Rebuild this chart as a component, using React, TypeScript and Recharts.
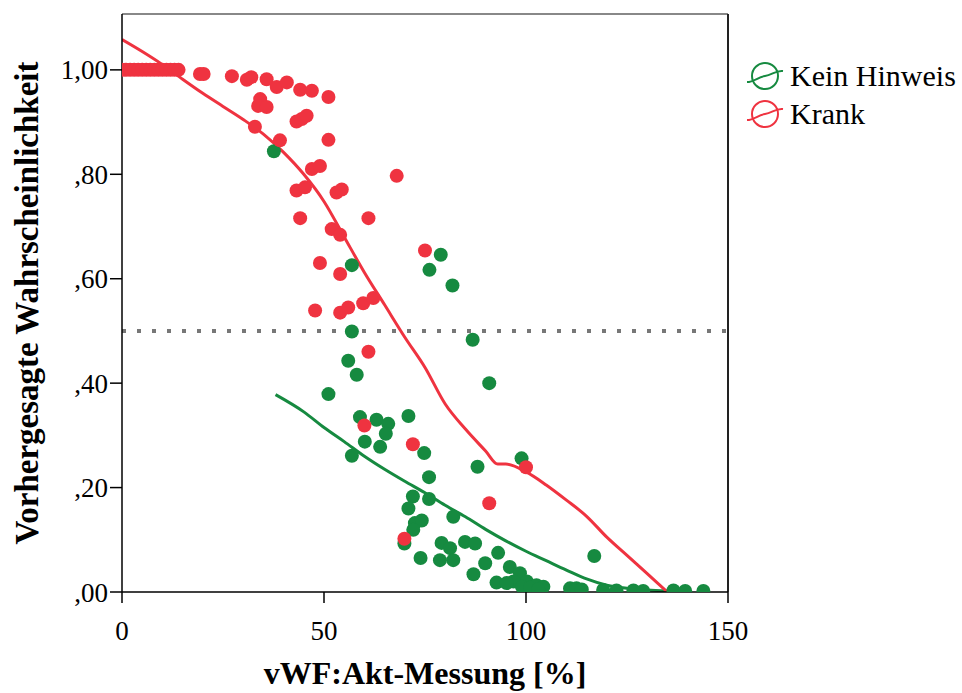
import React from 'react';
import { ComposedChart, Scatter, Line, XAxis, YAxis, ReferenceLine, Text } from 'recharts';

const FONT = '"Liberation Serif", "Times New Roman", Times, serif';
const RED = '#ef3340';
const GREEN = '#168a40';

// vWF:Akt [%], predicted probability
const krankPoints: [number, number][] = [
  [0, 1], [1, 1], [2, 1], [3, 1], [4, 1], [5, 1], [6, 1], [7, 1], [8, 1], [9, 1], [10, 1], [11, 1], [12, 1], [13, 1], [14, 1],
  [19.3, 0.992], [20.2, 0.992], [27.2, 0.988], [30.9, 0.981], [32, 0.986], [35.8, 0.982], [38.3, 0.967], [40.8, 0.976],
  [44.1, 0.962], [47, 0.96], [51.1, 0.948], [34.2, 0.944], [33.7, 0.931], [35.8, 0.929], [43.2, 0.901], [44.5, 0.906],
  [45.7, 0.912], [32.9, 0.891], [39.1, 0.865], [51.1, 0.866], [47, 0.81], [49, 0.816], [68, 0.797], [43.2, 0.769],
  [45.3, 0.775], [53.1, 0.765], [54.4, 0.771], [44.1, 0.716], [61, 0.716], [51.9, 0.695], [54, 0.684], [75, 0.654],
  [49, 0.63], [54, 0.609], [47.8, 0.539], [54, 0.535], [56, 0.545], [59.7, 0.553], [62.2, 0.563], [61, 0.46],
  [60, 0.319], [72, 0.283], [100, 0.239], [90.9, 0.17], [69.9, 0.102],
];

const keinPoints: [number, number][] = [
  [37.6, 0.844], [56.9, 0.626], [78.9, 0.646], [76.1, 0.617], [81.8, 0.587], [56.9, 0.499], [86.8, 0.483], [56, 0.443],
  [58.1, 0.416], [51.1, 0.379], [90.9, 0.4], [58.9, 0.335], [63, 0.33], [65.9, 0.322], [65.3, 0.303], [60.1, 0.288],
  [63.9, 0.278], [56.9, 0.261], [70.9, 0.337], [74.8, 0.266], [76, 0.22], [88, 0.24], [98.9, 0.256], [72, 0.183],
  [76, 0.178], [70.9, 0.16], [82, 0.144], [72.5, 0.132], [74.2, 0.137], [72.1, 0.119], [69.9, 0.093], [79.1, 0.094],
  [81.2, 0.084], [78.7, 0.061], [82, 0.061], [84.9, 0.096], [87.4, 0.093], [73.9, 0.065], [93.1, 0.075], [89.9, 0.055],
  [87, 0.034], [92.7, 0.018], [96, 0.048], [98.5, 0.036], [96.9, 0.02], [100.2, 0.02], [102.6, 0.013], [104.3, 0.01],
  [95.2, 0.017], [99, 0.01], [101, 0.008], [103, 0.005], [110.9, 0.007], [112.5, 0.007], [113.8, 0.005], [116.9, 0.069],
  [119.1, 0.004], [122.4, 0.003], [126.6, 0.003], [129, 0.002], [136.5, 0.003], [139.4, 0.002], [143.9, 0.002],
];

// smoothed fit lines per group
const krankFit: [number, number][] = [
  [0, 1.058], [5, 1.035], [10, 1.01], [15, 0.982], [20, 0.955], [25, 0.93], [30, 0.905], [35, 0.877], [40, 0.842],
  [45, 0.8], [50, 0.748], [55, 0.68], [60, 0.612], [65, 0.55], [70, 0.488], [75, 0.43], [80, 0.36], [85, 0.312],
  [90, 0.27], [93, 0.245], [95, 0.245], [100, 0.23], [105, 0.205], [110, 0.176], [115, 0.145], [120, 0.105],
  [125, 0.07], [130, 0.035], [135, 0],
];

const keinFit: [number, number][] = [
  [38, 0.378], [45, 0.345], [50, 0.315], [55, 0.288], [60, 0.26], [65, 0.235], [70, 0.212], [75, 0.19], [80, 0.166],
  [85, 0.144], [90, 0.12], [95, 0.098], [100, 0.078], [105, 0.06], [110, 0.042], [115, 0.025], [120, 0.013],
  [125, 0.007], [130, 0.004], [135, 0.002],
];

const xTicks = [0, 50, 100, 150];
const yTicks = [0, 0.2, 0.4, 0.6, 0.8, 1];
const Y_MAX = 1.107;

const toXY = (pts: [number, number][]) => pts.map(([x, y]) => ({ x, y }));

const fmtProb = (v: number) => {
  const s = v.toFixed(2).replace('.', ',');
  return s.startsWith('0') ? s.slice(1) : s;
};

const Dot = (color: string) => (props: any) => (
  <circle cx={props.cx} cy={props.cy} r={7} fill={color} />
);

const XTick = (props: any) => (
  <Text x={props.x} y={props.y} textAnchor="middle" verticalAnchor="start" fontFamily={FONT} fontSize={27} fill="#000">
    {String(props.payload.value)}
  </Text>
);

const YTick = (props: any) => (
  <Text x={props.x} y={props.y} textAnchor="end" verticalAnchor="middle" fontFamily={FONT} fontSize={27} fill="#000">
    {fmtProb(props.payload.value)}
  </Text>
);

const legendItems = [
  { name: 'Kein Hinweis', color: GREEN },
  { name: 'Krank', color: RED },
];

export default function App() {
  return (
    <div style={{ position: 'absolute', left: 0, top: 0, width: 962, height: 693, background: '#fff', fontFamily: FONT }}>
      <ComposedChart width={962} height={693} margin={{ top: 14, right: 234, bottom: 0, left: 0 }}>
        <XAxis
          type="number"
          dataKey="x"
          domain={[0, 150]}
          ticks={xTicks}
          allowDataOverflow
          height={101}
          tickSize={11}
          tickMargin={18}
          axisLine={{ stroke: '#000', strokeWidth: 1.5 }}
          tickLine={{ stroke: '#000', strokeWidth: 1.5 }}
          tick={<XTick />}
          label={{
            value: 'vWF:Akt-Messung [%]',
            position: 'insideBottom',
            offset: 9,
            style: { fontSize: 32, fontWeight: 'bold', fill: '#000', fontFamily: FONT },
          }}
        />
        <YAxis
          type="number"
          dataKey="y"
          domain={[0, Y_MAX]}
          ticks={yTicks}
          allowDataOverflow
          width={122}
          tickSize={12}
          tickMargin={2}
          axisLine={{ stroke: '#000', strokeWidth: 1.5 }}
          tickLine={{ stroke: '#000', strokeWidth: 1.5 }}
          tick={<YTick />}
          label={{
            value: 'Vorhergesagte Wahrscheinlichkeit',
            angle: -90,
            position: 'insideLeft',
            offset: 0,
            dx: 26,
            style: { fontSize: 33, fontWeight: 'bold', fill: '#000', fontFamily: FONT, textAnchor: 'middle' },
          }}
        />
        <ReferenceLine y={Y_MAX} stroke="#888" strokeWidth={2} />
        <ReferenceLine x={150} stroke="#222" strokeWidth={2} />
        <ReferenceLine y={0.5} stroke="#777" strokeWidth={4} strokeDasharray="4 11" />
        <Scatter data={toXY(keinPoints)} fill={GREEN} shape={Dot(GREEN)} isAnimationActive={false} />
        <Scatter data={toXY(krankPoints)} fill={RED} shape={Dot(RED)} isAnimationActive={false} />
        <Line data={toXY(keinFit)} dataKey="y" type="monotone" stroke={GREEN} strokeWidth={3} dot={false} activeDot={false} isAnimationActive={false} />
        <Line data={toXY(krankFit)} dataKey="y" type="monotone" stroke={RED} strokeWidth={3} dot={false} activeDot={false} isAnimationActive={false} />
      </ComposedChart>
      <div style={{ position: 'absolute', left: 742, top: 57, fontFamily: FONT, fontSize: 30, color: '#000' }}>
        {legendItems.map((it) => (
          <div key={it.name} style={{ display: 'flex', alignItems: 'center', height: 38 }}>
            <svg width={46} height={38} style={{ marginRight: 2 }}>
              <circle cx={23} cy={19} r={13} fill="none" stroke={it.color} strokeWidth={2} />
              <path d="M5 25 C 12 25, 16 20, 23 19 S 34 13, 41 14" fill="none" stroke={it.color} strokeWidth={2} />
            </svg>
            <span>{it.name}</span>
          </div>
        ))}
      </div>
    </div>
  );
}
